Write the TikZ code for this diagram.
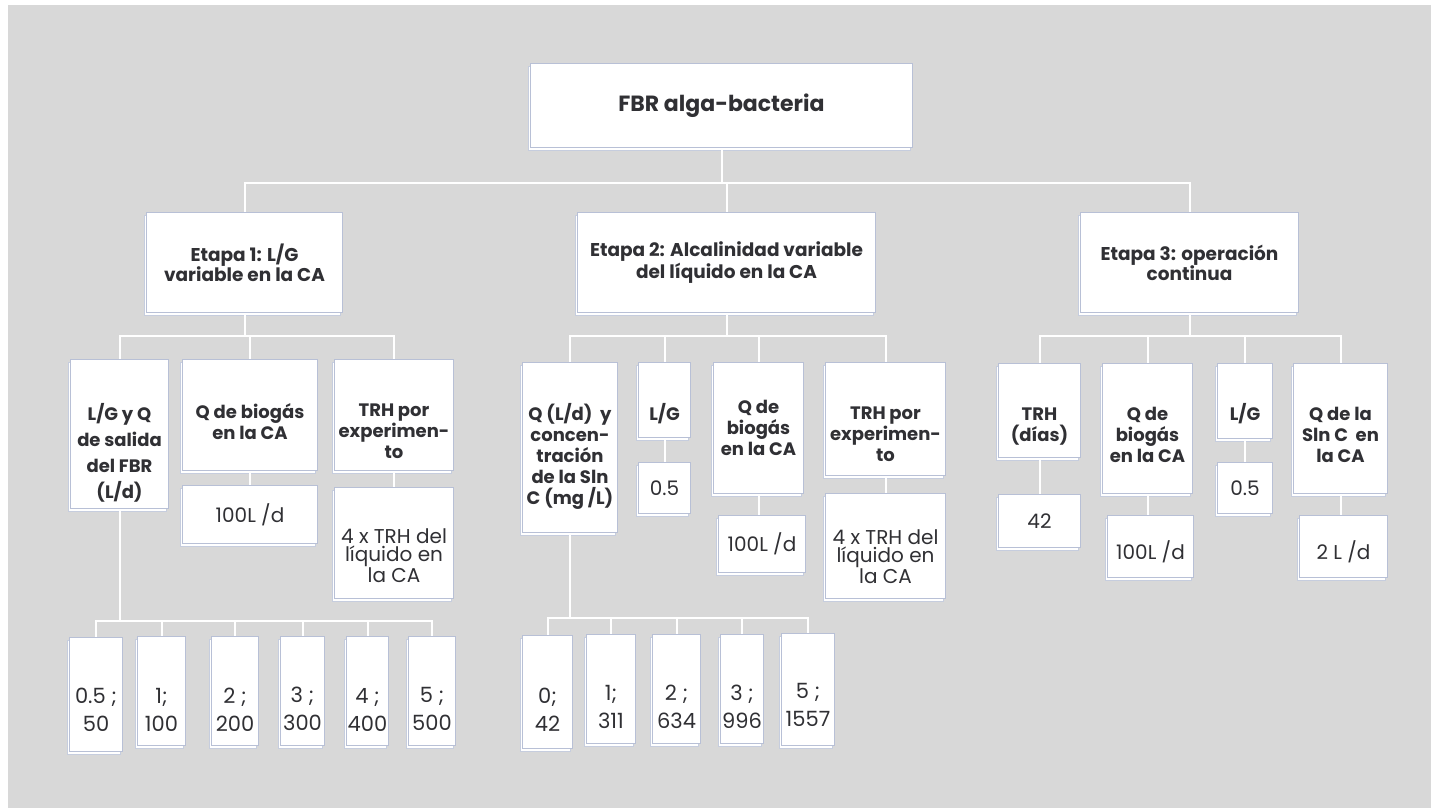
\documentclass[tikz,border=0pt]{standalone}
\usepackage{fontspec}
\setmainfont{Poppins}
\usepackage{tikz}
\usetikzlibrary{
  shadows,
  calc
}
\usepackage{xcolor}
\definecolor{fondo}{RGB}{216, 216, 216}
\definecolor{borde}{RGB}{184, 192, 214}
\definecolor{texto}{RGB}{48,  48,  52}
% puntal para bajar el texto dentro de la caja
\newcommand{\bajar}[1]{\rule{0pt}{#1pt}}
\tikzset{
  % Cajas del diagrama
  caja/.style    = {draw=borde, fill=white, line width=1pt, inner sep=1pt,
                    align=center, anchor=north west, text=texto,
                    copy shadow={shadow xshift=-2.5pt, shadow yshift=-2.5pt,
                                 draw=borde!80, fill=white}},
  raiz/.style    = {caja, font=\bfseries\fontsize{22}{24}\selectfont},
  etapa/.style   = {caja, font=\bfseries\fontsize{18.5}{20}\selectfont},
  param/.style   = {caja, font=\bfseries\fontsize{18}{21}\selectfont},
  valor/.style   = {caja, font=\fontsize{20}{18}\selectfont},
  dato/.style    = {caja, font=\fontsize{21}{24}\selectfont},
  % Conectores
  conn/.style    = {draw=white, line width=2pt},
}

\begin{document}
\begin{tikzpicture}[x=1pt, y=-1pt]
  \fill[white] (0,0) rectangle (1431,808);
  \fill[fondo] (8,5) rectangle (1431,808);

  % raiz y etapas
  \node[raiz, minimum width=382, minimum height=84] (root) at (530,63) {FBR alga-bacteria};
  \node[etapa, minimum width=196, minimum height=100] (e1) at (146,212) {Etapa 1: L/G\\variable en la CA};
  \node[etapa, minimum width=298, minimum height=100] (e2) at (577,212) {Etapa 2: Alcalinidad variable\\del líquido en la CA};
  \node[etapa, minimum width=218, minimum height=100] (e3) at (1080,212) {Etapa 3: operación\\continua};

  % etapa 1
  \node[param, minimum width=98,  minimum height=149] (a1) at (70,359)  {\bajar{54}L/G y Q\\[5pt]de salida\\[5pt]del FBR\\[5pt](L/d)};
  \node[param, minimum width=135, minimum height=111] (a2) at (182,359) {\bajar{29}Q de biogás\\en la CA};
  \node[param, minimum width=119, minimum height=111] (a3) at (334,359) {\bajar{46}TRH por\\experimen-\\to};
  \node[valor, minimum width=135, minimum height=58]  (a2v) at (182,485) {100L /d};
  \node[valor, minimum width=119, minimum height=111] (a3v) at (334,487) {\bajar{40}4 x TRH del\\líquido en\\la CA};

  \node[dato, minimum width=53, minimum height=114] (d1) at (69,637)  {\bajar{47}0.5 ;\\[4pt]50};
  \node[dato, minimum width=48, minimum height=109] (d2) at (137,636) {\bajar{52}1;\\[4pt]100};
  \node[dato, minimum width=47, minimum height=109] (d3) at (211,636) {\bajar{52}2 ;\\[4pt]200};
  \node[dato, minimum width=44, minimum height=109] (d4) at (280,636) {\bajar{52}3 ;\\[4pt]300};
  \node[dato, minimum width=42, minimum height=109] (d5) at (346,636) {\bajar{52}4 ;\\[4pt]400};
  \node[dato, minimum width=47, minimum height=109] (d6) at (408,636) {\bajar{52}5 ;\\[4pt]500};

  % etapa 2
  \node[param, minimum width=95,  minimum height=170] (b1) at (522,362) {\bajar{35}Q (L/d)~~y\\concen-\\tración\\de la Sln\\C (mg /L)};
  \node[param, minimum width=52,  minimum height=75]  (b2) at (638,362) {\bajar{44}L/G};
  \node[param, minimum width=90,  minimum height=131] (b3) at (713,362) {Q de\\biogás\\en la CA};
  \node[param, minimum width=120, minimum height=113] (b4) at (825,362) {\bajar{44}TRH por\\experimen-\\to};
  \node[valor, minimum width=52,  minimum height=51]  (b2v) at (638,462) {0.5};
  \node[valor, minimum width=87,  minimum height=57]  (b3v) at (718,515) {100L /d};
  \node[valor, minimum width=120, minimum height=105] (b4v) at (825,493) {\bajar{36}4 x TRH del\\líquido en\\la CA};

  \node[dato, minimum width=50, minimum height=113] (f1) at (522,635) {\bajar{51}0;\\[4pt]42};
  \node[dato, minimum width=49, minimum height=109] (f2) at (586,634) {\bajar{52}1;\\[4pt]311};
  \node[dato, minimum width=48, minimum height=109] (f3) at (652,634) {\bajar{52}2 ;\\[4pt]634};
  \node[dato, minimum width=43, minimum height=109] (f4) at (720,634) {\bajar{52}3 ;\\[4pt]996};
  \node[dato, minimum width=53, minimum height=112] (f5) at (781,633) {\bajar{46}5 ;\\[4pt]1557};

  % etapa 3
  \node[param, minimum width=82, minimum height=94]  (c1) at (998,363)  {\bajar{44}TRH\\(días)};
  \node[param, minimum width=90, minimum height=130] (c2) at (1102,363) {\bajar{27}Q de\\biogás\\en la CA};
  \node[param, minimum width=55, minimum height=75]  (c3) at (1217,363) {\bajar{42}L/G};
  \node[param, minimum width=94, minimum height=130] (c4) at (1293,363) {\bajar{27}Q de la\\Sln C~~en\\la CA};
  \node[valor, minimum width=82, minimum height=53]  (c1v) at (998,494)  {42};
  \node[valor, minimum width=86, minimum height=62]  (c2v) at (1107,515) {\bajar{30}100L /d};
  \node[valor, minimum width=55, minimum height=51]  (c3v) at (1217,462) {0.5};
  \node[valor, minimum width=88, minimum height=62]  (c4v) at (1299,515) {\bajar{30}2 L /d};

  % conectores
  \foreach \e in {e1,e2,e3}
    \draw[conn] (root.south) -- ++(0,35) -| (\e.north);
  \foreach \p in {a1,a2,a3}
    \draw[conn] (e1.south) -- ++(0,23) -| (\p.north);
  \foreach \p in {b1,b2,b3,b4}
    \draw[conn] (e2.south) -- ++(0,23) -| (\p.north);
  \foreach \p in {c1,c2,c3,c4}
    \draw[conn] (e3.south) -- ++(0,23) -| (\p.north);
  \foreach \p in {a2,a3,b2,b3,b4,c1,c2,c3,c4}
    \draw[conn] (\p.south) -- (\p.south |- \p v.north);
  \foreach \d in {d1,d2,d3,d4,d5,d6}
    \draw[conn] (a1.south) -- ++(0,112) -| (\d.north);
  \foreach \f in {f1,f2,f3,f4,f5}
    \draw[conn] (b1.south) -- ++(0,85) -| (\f.north);
\end{tikzpicture}
\end{document}
